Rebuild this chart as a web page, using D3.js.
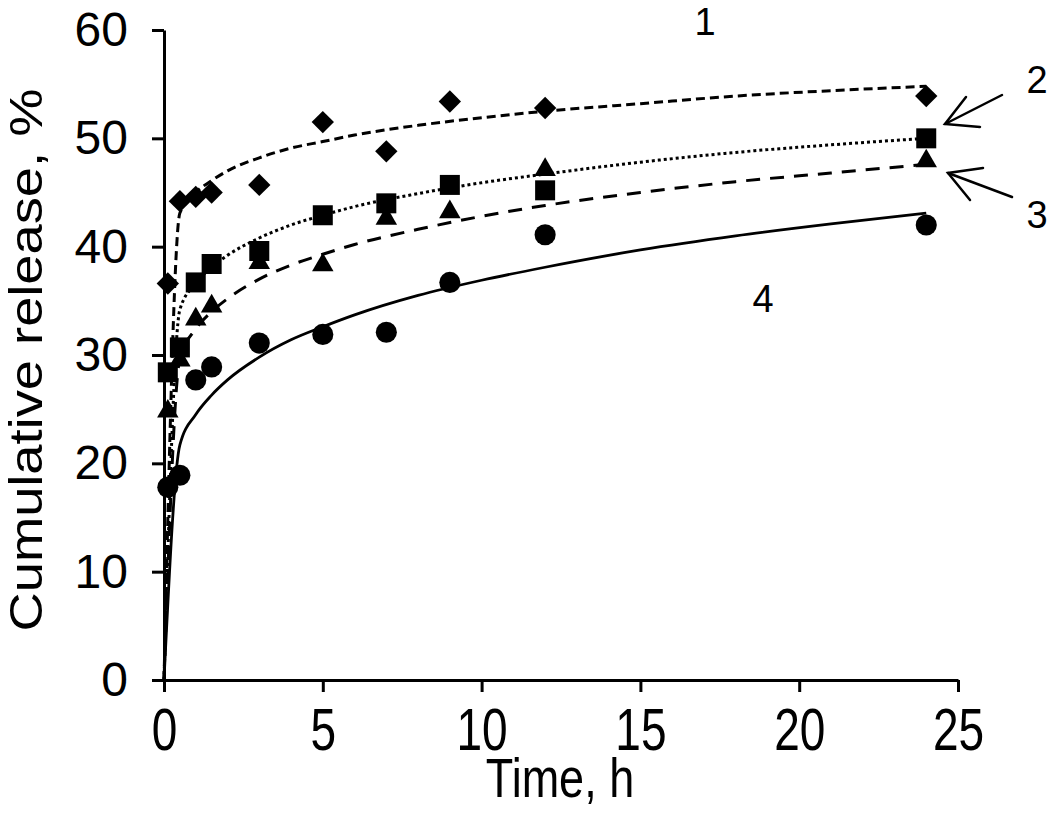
<!DOCTYPE html>
<html>
<head>
<meta charset="utf-8">
<script src="https://cdn.jsdelivr.net/npm/d3@7"></script>
<style>
  html, body { margin: 0; padding: 0; background: #fff; }
  svg { display: block; }
  text { font-family: "Liberation Sans", Arial, sans-serif; fill: #000; }
</style>
</head>
<body>
<svg id="chart" width="1050" height="825"></svg>
<script>
// ---- data ----
const times = [0.12, 0.5, 1, 1.5, 3, 5, 7, 9, 12, 24];
const series1 = [36.6, 44.2, 44.6, 45.0, 45.7, 51.5, 48.8, 53.4, 52.8, 53.9]; // diamonds
const series2 = [28.4, 30.7, 36.7, 38.4, 39.6, 42.9, 44.0, 45.7, 45.2, 50.0]; // squares
const series3 = [24.8, 29.5, 33.3, 34.5, 38.5, 38.3, 42.6, 43.2, 47.1, 47.9]; // triangles
const series4 = [17.8, 18.9, 27.7, 28.9, 31.1, 31.9, 32.1, 36.7, 41.1, 42.0]; // circles

// fitted curves at these times
const fitTimes = [0, 0.5, 1, 1.5, 2, 3, 4, 5, 6, 8, 10, 12, 15, 18, 21, 24];
const fit1 = [0, 43.1, 45.0, 46.1, 47.0, 48.2, 49.1, 49.7, 50.3, 51.2, 51.9, 52.5, 53.2, 53.9, 54.4, 54.8];
const fit2 = [0, 34.2, 36.6, 38.1, 39.2, 40.8, 42.0, 42.9, 43.7, 44.9, 45.9, 46.7, 47.8, 48.7, 49.4, 50.0];
const fit3 = [0, 29.7, 32.4, 34.0, 35.2, 37.0, 38.3, 39.3, 40.2, 41.6, 42.8, 43.8, 45.0, 46.0, 46.8, 47.6];
const fit4 = [0, 21.7, 24.5, 26.3, 27.7, 29.8, 31.4, 32.6, 33.7, 35.5, 36.9, 38.1, 39.7, 41.0, 42.1, 43.1];

const xTicks = [0, 5, 10, 15, 20, 25];
const yTicks = [0, 10, 20, 30, 40, 50, 60];
const curveLabels = ["1", "2", "3", "4"];
const xTitle = "Time, h";
const yTitle = "Cumulative release, %";

// ---- drawing ----
const svg = d3.select("#chart");
const x = d3.scaleLinear().domain([0, 25]).range([164, 958]);
const y = d3.scaleLinear().domain([0, 60]).range([680, 30]);

// axes
const xAxis = d3.axisBottom(x).tickValues(xTicks).tickSize(12).tickSizeOuter(0).tickFormat(d3.format("d"));
const yAxis = d3.axisLeft(y).tickValues(yTicks).tickSize(12).tickSizeOuter(0).tickPadding(24).tickFormat(d3.format("d"));

const gx = svg.append("g").attr("transform", `translate(0,${y(0)})`).call(xAxis);
const gy = svg.append("g").attr("transform", `translate(${x(0)},0)`).call(yAxis);
[gx, gy].forEach(g => {
  g.select(".domain").attr("stroke", "#000").attr("stroke-width", 3);
  g.selectAll(".tick line").attr("stroke", "#000").attr("stroke-width", 3);
  g.selectAll(".tick text").attr("font-family", "Liberation Sans, Arial, sans-serif").attr("fill", "#000");
});
gy.selectAll(".tick text").attr("font-size", 48);
gx.selectAll(".tick text")
  .attr("font-size", 46)
  .attr("y", 0).attr("dy", null)
  .attr("transform", "translate(0,70) scale(1,1.3)");

// fitted lines
const fits = [
  {v: fit1, dash: "9,5", w: 3},
  {v: fit2, dash: "3,3", w: 3},
  {v: fit3, dash: "14,10", w: 3},
  {v: fit4, dash: null, w: 2.8}
];
const line = d3.line().curve(d3.curveMonotoneX);
fits.forEach(f => {
  svg.append("path")
    .attr("d", line(fitTimes.map((t, i) => [x(t), y(f.v[i])])))
    .attr("fill", "none")
    .attr("stroke", "#000")
    .attr("stroke-width", f.w)
    .attr("stroke-dasharray", f.dash);
});

// markers
const markerDefs = [
  {v: series1, type: d3.symbolSquare, size: 250, rot: 45},
  {v: series2, type: d3.symbolSquare, size: 400, rot: 0},
  {v: series3, type: d3.symbolTriangle, size: 200, rot: 0},
  {v: series4, type: d3.symbolCircle, size: 350, rot: 0}
];
markerDefs.forEach(m => {
  const sym = d3.symbol().type(m.type).size(m.size);
  svg.append("g").selectAll("path")
    .data(times.map((t, i) => [t, m.v[i]]))
    .join("path")
    .attr("d", sym)
    .attr("fill", "#000")
    .attr("transform", d => `translate(${x(d[0])},${y(d[1])}) rotate(${m.rot})`);
});

// axis titles
svg.append("text")
  .attr("transform", "translate(560,797) scale(1,1.22)")
  .attr("text-anchor", "middle")
  .attr("font-size", 45)
  .text(xTitle);
svg.append("text")
  .attr("transform", "translate(42,360) rotate(-90) scale(1.18,1)")
  .attr("text-anchor", "middle")
  .attr("font-size", 46)
  .text(yTitle);

// curve labels
const labelPos = [[705, 35], [1037, 93], [1037, 228], [763, 312]];
curveLabels.forEach((s, i) => {
  svg.append("text")
    .attr("x", labelPos[i][0]).attr("y", labelPos[i][1])
    .attr("text-anchor", "middle")
    .attr("font-size", 38)
    .text(s);
});

// arrows
const arrows = [
  {tail: [1002, 95], tip: [945, 124], w1: [966, 97], w2: [980, 127]},
  {tail: [1012, 197], tip: [948, 173], w1: [983, 168], w2: [970, 200]}
];
arrows.forEach(a => {
  const g = svg.append("g").attr("stroke", "#000").attr("stroke-width", 2.5).attr("fill", "none").attr("stroke-linecap", "round");
  g.append("line").attr("x1", a.tail[0]).attr("y1", a.tail[1]).attr("x2", a.tip[0]).attr("y2", a.tip[1]);
  g.append("polyline").attr("points", [a.w1, a.tip, a.w2].map(p => p.join(",")).join(" "));
});
</script>
</body>
</html>
